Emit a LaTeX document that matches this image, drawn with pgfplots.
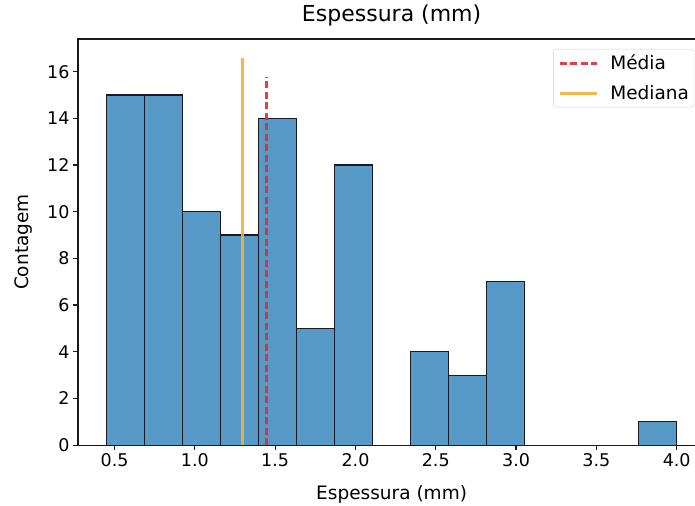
\documentclass[border=0pt]{standalone}
\usepackage{fontspec}
\setmainfont{DejaVu Sans}
\usepackage{pgfplots}
\pgfplotsset{compat=1.18}
\definecolor{barfill}{RGB}{87,153,199}
\definecolor{baredge}{RGB}{25,25,35}
\definecolor{meanc}{RGB}{222,45,50}
\definecolor{medc}{RGB}{242,176,62}

\begin{document}
\begin{tikzpicture}
\begin{axis}[
  scale only axis, width=627pt, height=406pt,
  xmin=0.2725, xmax=4.1775, ymin=0, ymax=17.4,
  xtick={0.5,1.0,...,4.0}, ytick={0,2,...,16},
  xticklabel style={/pgf/number format/.cd,fixed,fixed zerofill,precision=1},
  /pgf/number format/assume math mode=true,
  tick label style={font=\fontsize{17.5}{20}\selectfont},
  tick align=outside, major tick length=5pt,
  xtick pos=bottom, ytick pos=left,
  axis line style={line width=1.2pt, black!90},
  every tick/.style={line width=1.2pt, black!90},
  title={Espessura (mm)},
  title style={at={(axis description cs:0.5,1)}, anchor=base, yshift=11pt, font=\fontsize{22}{26}\selectfont},
  xlabel={Espessura (mm)},
  xlabel style={at={(axis description cs:0.5,0)}, anchor=base, yshift=-54pt, font=\fontsize{18.5}{22}\selectfont},
  ylabel={Contagem},
  ylabel style={at={(axis description cs:0,0.5)}, anchor=base, yshift=50pt, font=\fontsize{18.5}{22}\selectfont},
  legend style={at={(0.9825,0.9754)}, anchor=north east, draw=black!18, rounded corners=3pt,
    font=\fontsize{18.5}{21}\selectfont, inner xsep=3pt, inner ysep=4pt, row sep=10pt, nodes={inner sep=2pt}},
  legend cell align=left,
  legend image code/.code={\draw[#1] (0pt,0pt) -- (37pt,0pt); \path (-2pt,0pt) (47pt,0pt);},
]
\addplot[ybar interval, fill=barfill, draw=baredge, line width=1.2pt, forget plot] coordinates {
  (0.45,15) (0.686667,15) (0.923333,10) (1.16,9) (1.396667,14) (1.633333,5)
  (1.87,12) (2.106667,0) (2.343333,4) (2.58,3) (2.816667,7) (3.053333,0)
  (3.29,0) (3.526667,0) (3.763333,1) (4.0,1)};
\addplot[meanc, line width=3pt, dash pattern=on 7pt off 3.5pt, opacity=0.9] coordinates {(1.448,0) (1.448,15.77)};
\addlegendentry{Média}
\addplot[medc, line width=3pt, opacity=0.9] coordinates {(1.294,0) (1.294,16.59)};
\addlegendentry{Mediana}
\coordinate (bbll) at (rel axis cs:0,0);
\coordinate (bbur) at (axis cs:4.114,17.4);
\end{axis}
\pgfresetboundingbox
\path[use as bounding box] ([xshift=-78pt,yshift=-60pt]bbll) rectangle ([yshift=39pt]bbur);
\end{tikzpicture}
\end{document}
